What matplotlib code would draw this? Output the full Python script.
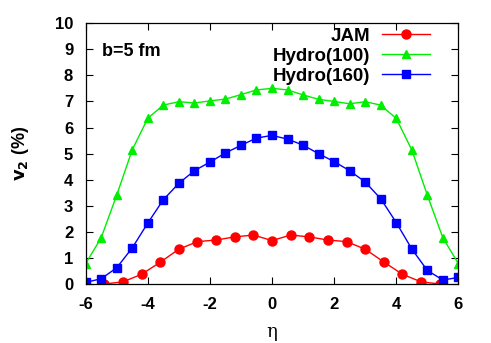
import numpy as np
import matplotlib
matplotlib.use('Agg')
import matplotlib.pyplot as plt

plt.rcParams['font.family'] = ['Liberation Sans', 'DejaVu Sans']
plt.rcParams['axes.unicode_minus'] = False

# JAM points every 0.6 in eta, hydro points every 0.5
eta_jam = [-5.4, -4.8, -4.2, -3.6, -3.0, -2.4, -1.8, -1.2, -0.6, 0.0,
           0.6, 1.2, 1.8, 2.4, 3.0, 3.6, 4.2, 4.8, 5.4]
v2_jam = [0.02, 0.10, 0.39, 0.85, 1.35, 1.64, 1.70, 1.82, 1.89, 1.68,
          1.89, 1.82, 1.70, 1.64, 1.35, 0.86, 0.39, 0.10, 0.02]

eta_hydro = [-6.0, -5.5, -5.0, -4.5, -4.0, -3.5, -3.0, -2.5, -2.0, -1.5, -1.0, -0.5, 0.0,
             0.5, 1.0, 1.5, 2.0, 2.5, 3.0, 3.5, 4.0, 4.5, 5.0, 5.5, 6.0]
v2_hydro100 = [0.80, 1.79, 3.42, 5.15, 6.36, 6.86, 6.99, 6.94, 7.02, 7.09, 7.26, 7.44, 7.50,
               7.44, 7.25, 7.08, 7.00, 6.91, 6.99, 6.86, 6.35, 5.15, 3.42, 1.79, 0.80]
v2_hydro160 = [0.08, 0.22, 0.64, 1.40, 2.35, 3.24, 3.87, 4.35, 4.68, 5.03, 5.32, 5.60, 5.70,
               5.56, 5.33, 5.00, 4.70, 4.35, 3.92, 3.28, 2.37, 1.36, 0.54, 0.17, 0.27]

fig = plt.figure(figsize=(4.91, 3.43), dpi=100)
ax = fig.add_axes([0.1745, 0.1706, 0.759, 0.7624])

ax.plot(eta_jam, v2_jam, color='red', marker='o', ms=6.5, lw=1, label='JAM')
ax.plot(eta_hydro, v2_hydro100, color='#00ee00', marker='^', ms=6, lw=1, label='Hydro(100)')
ax.plot(eta_hydro, v2_hydro160, color='blue', marker='s', ms=6, lw=1, label='Hydro(160)')

ax.set_xlim(-6, 6)
ax.set_ylim(0, 10)
ax.set_xticks(np.arange(-6, 7, 2))
ax.set_yticks(np.arange(0, 11, 1))
ax.tick_params(direction='in', top=True, right=True, length=5, width=0.8,
               labelsize=12)
ax.tick_params(axis='x', pad=9)
ax.tick_params(axis='y', pad=9)
for lab in ax.get_xticklabels() + ax.get_yticklabels():
    lab.set_fontweight('bold')
for s in ax.spines.values():
    s.set_linewidth(0.9)

ax.set_xlabel('η', fontsize=13, family=['DejaVu Serif'], labelpad=8)
ax.set_ylabel(r'$\mathbf{v_2}$ (%)', fontsize=13, fontweight='bold', labelpad=17)

ax.text(0.045, 0.89, 'b=5 fm', transform=ax.transAxes, fontsize=13,
        fontweight='bold', va='center', ha='left')

leg = ax.legend(loc='upper right', markerfirst=False, frameon=False,
                prop={'size': 13.5, 'weight': 'bold'}, handlelength=2.6,
                handletextpad=0.6, labelspacing=0.15, borderaxespad=0.0,
                bbox_to_anchor=(0.945, 1.01))

fig.savefig('out.png', dpi=100)
